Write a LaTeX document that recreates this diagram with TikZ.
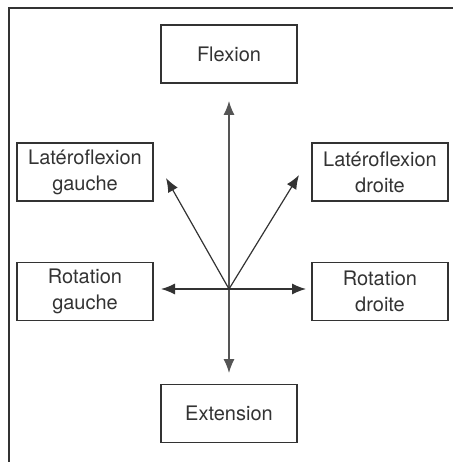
\documentclass[tikz,border=0pt]{standalone}
\usepackage{fontspec}
\setmainfont{TeX Gyre Heros}
\usetikzlibrary{arrows.meta}
\definecolor{ink}{HTML}{333333}
\definecolor{shaft}{HTML}{555555}
\tikzset{
  box/.style={draw=ink, line width=1.3pt, minimum width=136pt, minimum height=58pt, inner sep=0pt,
    align=center, text=ink, font=\fontsize{20pt}{26pt}\selectfont},
  dirarrow/.style={draw=ink, line width=1.2pt, -{Latex[length=14pt,width=11pt]}},
  frame/.style={draw=ink, line width=1.3pt}
}
\begin{document}
\begin{tikzpicture}[x=1pt,y=-1pt]
\useasboundingbox (0,0) rectangle (453,462);
\draw[frame] (9,462) -- (9,8) -- (453,8);
\node[box] (flex) at (229,54) {Flexion};
\node[box] (ext) at (229,413.5) {Extension};
\node[box] (lg) at (85,172) {Latéroflexion\\gauche};
\node[box] (ld) at (380,172) {Latéroflexion\\droite};
\node[box] (rg) at (85,291.5) {Rotation\\gauche};
\node[box] (rd) at (380,291.5) {Rotation\\droite};
\coordinate (c) at (229,289);
\coordinate (up) at (229,101);
\coordinate (down) at (229,373);
\coordinate (left) at (161,289);
\coordinate (right) at (306,289);
\coordinate (ul) at (166,178);
\coordinate (ur) at (299,175);
\draw[dirarrow, draw=shaft] (c) -- (up);
\draw[dirarrow, draw=shaft] (c) -- (down);
\draw[dirarrow] (c) -- (left);
\draw[dirarrow] (c) -- (right);
\draw[dirarrow] (c) -- (ul);
\draw[dirarrow] (c) -- (ur);
\end{tikzpicture}
\end{document}
